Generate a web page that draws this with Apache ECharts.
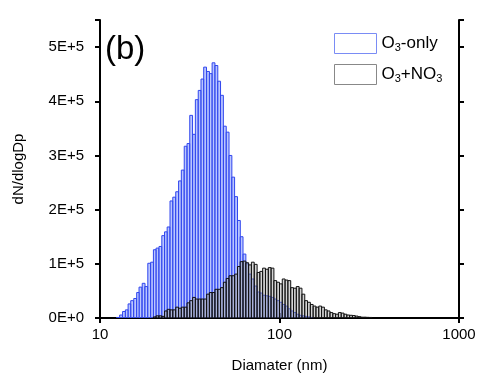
<!DOCTYPE html>
<html>
<head>
<meta charset="utf-8">
<script src="https://cdn.jsdelivr.net/npm/echarts@6/dist/echarts.min.js"></script>
<style>html,body{margin:0;padding:0;background:#fff;}#c{width:482px;height:378px;}</style>
</head>
<body>
<div id="c"></div>
<script>
// SMPS bin mid-point diameters (nm), 64 channels/decade
const diameters = [
  12.6, 13.1, 13.6, 14.1, 14.6, 15.1, 15.7, 16.3, 16.8, 17.5,
  18.1, 18.8, 19.5, 20.2, 20.9, 21.7, 22.5, 23.3, 24.1, 25.0,
  25.9, 26.9, 27.9, 28.9, 30.0, 31.1, 32.2, 33.4, 34.6, 35.9,
  37.2, 38.5, 40.0, 41.4, 42.9, 44.5, 46.1, 47.8, 49.6, 51.4,
  53.3, 55.2, 57.3, 59.4, 61.5, 63.8, 66.1, 68.5, 71.0, 73.7,
  76.4, 79.1, 82.0, 85.1, 88.2, 91.4, 94.7, 98.2, 101.8, 105.5,
  109.4, 113.4, 117.6, 121.9, 126.3, 131.0, 135.8, 140.7, 145.9, 151.2,
  156.8, 162.5, 168.5, 174.7, 181.1, 187.7, 194.6, 201.7, 209.1, 216.7,
  224.7, 232.9, 241.4, 250.3, 259.5, 269.0, 278.8, 289.0, 299.6, 310.6,
  322.0
];
// dN/dlogDp, O3-only
const o3Only = [
  1000, 5500, 12000, 15000, 26000, 32000, 36000, 47000, 57000, 64000,
  58000, 101000, 103000, 126000, 129000, 132000, 152000, 159000, 168000, 216000,
  223000, 233000, 253000, 273000, 317000, 322000, 374000, 339000, 403000, 420000,
  441000, 463000, 455000, 451000, 471000, 466000, 437000, 411000, 354000, 343000,
  300000, 260000, 224000, 180000, 150000, 118000, 100000, 81000, 72000, 59000,
  48000, 46000, 42000, 41000, 40000, 38000, 35000, 32000, 29000, 25000,
  22000, 17000, 13000, 10000, 7000, 5000, 4000, 3000, 2000, 1000,
  0, 0, 0, 0, 0, 0, 0, 0, 0, 0,
  0, 0, 0, 0, 0, 0, 0, 0, 0, 0,
  0
];
// dN/dlogDp, O3+NO3
const o3NO3 = [
  0, 0, 0, 0, 0, 0, 0, 0, 0, 0,
  0, 0, 0, 2000, 4000, 4000, 3000, 13000, 16000, 15000,
  15000, 20000, 18000, 20000, 20000, 28000, 32000, 38000, 35000, 35000,
  35000, 35000, 44000, 47000, 47000, 53000, 53000, 56000, 66000, 73000,
  78000, 78000, 81000, 95000, 104000, 105000, 102000, 98000, 103000, 99000,
  84000, 86000, 92000, 90000, 93000, 92000, 69000, 66000, 63000, 72000,
  70000, 69000, 56000, 55000, 58000, 55000, 44000, 32000, 29000, 25000,
  22000, 20000, 22000, 20000, 15000, 13000, 10000, 8000, 7000, 10000,
  9000, 7000, 5500, 5000, 4500, 3500, 2500, 1500, 1500, 1200,
  1000
];
const yTicks = ['0E+0', '1E+5', '2E+5', '3E+5', '4E+5', '5E+5'];
const xTicks = { 10: '10', 100: '100', 1000: '1000' };

const halfBin = Math.pow(10, 1 / 128);
function makeRender(fill, stroke) {
  return function (params, api) {
    const d = api.value(0), v = api.value(1);
    if (!v) return null;
    const p0 = api.coord([d / halfBin, v]);
    const p1 = api.coord([d * halfBin, 0]);
    return {
      type: 'rect',
      shape: { x: p0[0], y: p0[1], width: p1[0] - p0[0], height: p1[1] - p0[1] },
      style: { fill: fill, stroke: stroke, lineWidth: 1 }
    };
  };
}
const blueData = diameters.map((d, i) => [d, o3Only[i]]);
const grayData = diameters.map((d, i) => [d, o3NO3[i]]);

const font = 'Liberation Sans, Arial, sans-serif';
const chart = echarts.init(document.getElementById('c'), null, { renderer: 'canvas' });
chart.setOption({
  animation: false,
  backgroundColor: '#fff',
  textStyle: { fontFamily: font },
  title: {
    text: '(b)', left: 100, top: 28,
    textStyle: { fontFamily: font, fontSize: 33, fontWeight: 'normal', color: '#000' }
  },
  grid: { left: 100, right: 23, top: 20, bottom: 59 },
  legend: {
    orient: 'vertical', left: 329, top: 28, itemWidth: 42, itemHeight: 20, itemGap: 10,
    textStyle: {
      fontFamily: font, fontSize: 17, color: '#000',
      rich: { s: { fontFamily: font, fontSize: 11, verticalAlign: 'bottom', padding: [9, 0, 0, 0] } }
    },
    formatter: function (n) { return n === 'O3-only' ? 'O{s|3}-only' : 'O{s|3}+NO{s|3}'; },
    data: [
      { name: 'O3-only', icon: 'rect', itemStyle: { color: '#fff', borderColor: '#7a8cf5', borderWidth: 1 } },
      { name: 'O3+NO3', icon: 'rect', itemStyle: { color: '#fff', borderColor: '#888', borderWidth: 1 } }
    ]
  },
  xAxis: [{
    type: 'log', logBase: 10, min: 10, max: 1000, position: 'bottom',
    name: 'Diamater (nm)', nameLocation: 'middle', nameGap: 40,
    nameTextStyle: { fontFamily: font, fontSize: 15, color: '#000' },
    axisLine: { lineStyle: { color: '#000', width: 2 } },
    axisTick: { show: true, length: 5, lineStyle: { color: '#000', width: 2 } },
    axisLabel: { fontFamily: font, fontSize: 15, color: '#000', margin: 9,
      formatter: function (v) { return xTicks[Math.round(v)] || ''; } },
    minorTick: { show: false }, splitLine: { show: false }
  }, {
    type: 'log', logBase: 10, min: 10, max: 1000, position: 'top',
    axisLine: { lineStyle: { color: '#000', width: 2 } },
    axisTick: { show: true, length: 5, lineStyle: { color: '#000', width: 2 } },
    axisLabel: { show: false }, splitLine: { show: false }
  }],
  yAxis: [{
    type: 'value', min: 0, max: 550000, interval: 100000, position: 'left',
    name: 'dN/dlogDp', nameLocation: 'middle', nameGap: 74,
    nameTextStyle: { fontFamily: font, fontSize: 15, color: '#000' },
    axisLine: { show: true, lineStyle: { color: '#000', width: 2 } },
    axisTick: { show: true, length: 5, lineStyle: { color: '#000', width: 2 } },
    axisLabel: {
      fontFamily: font, fontSize: 15, color: '#000', margin: 16,
      formatter: function (v) { const i = Math.round(v / 100000); return (v % 100000 === 0 && i < yTicks.length) ? yTicks[i] : ''; }
    },
    splitLine: { show: false }
  }, {
    type: 'value', min: 0, max: 550000, interval: 100000, position: 'right',
    axisLine: { show: true, lineStyle: { color: '#000', width: 2 } },
    axisTick: { show: true, length: 5, lineStyle: { color: '#000', width: 2 } },
    axisLabel: { show: false }, splitLine: { show: false }
  }],
  series: [{
    name: 'O3-only', type: 'custom', xAxisIndex: 0, yAxisIndex: 0,
    renderItem: makeRender('rgba(140,160,255,0.6)', '#3046ee'),
    itemStyle: { color: '#3046ee' },
    encode: { x: 0, y: 1 },
    data: blueData, clip: true, z: 2
  }, {
    name: 'O3+NO3', type: 'custom', xAxisIndex: 0, yAxisIndex: 0,
    renderItem: makeRender('rgba(150,150,150,0.4)', '#111'),
    itemStyle: { color: '#555' },
    encode: { x: 0, y: 1 },
    data: grayData, clip: true, z: 3
  }]
});
</script>
</body>
</html>
